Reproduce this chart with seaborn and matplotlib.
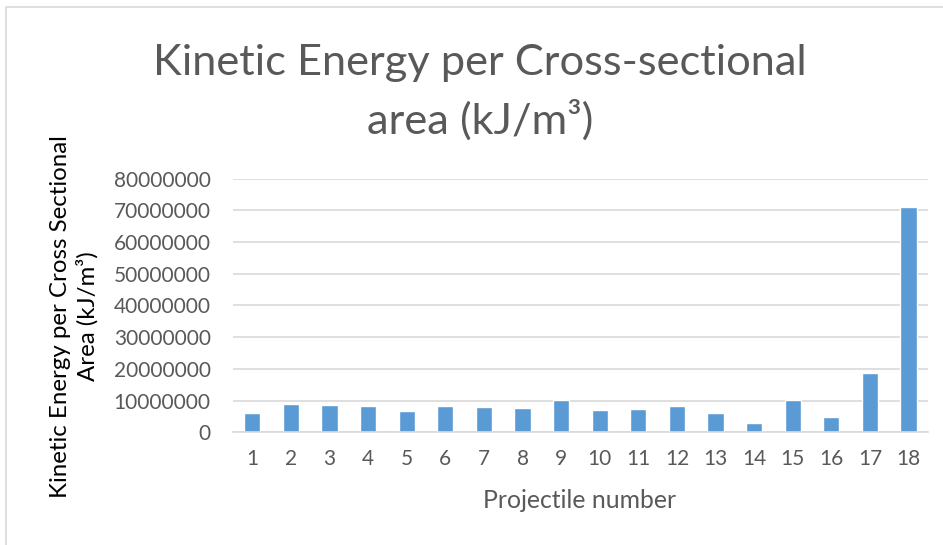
import seaborn as sns
import matplotlib.pyplot as plt
import pandas as pd

projectiles = [str(i) for i in range(1, 19)]
ke_per_area = [5.9e6, 8.9e6, 8.7e6, 8.3e6, 6.7e6, 8.3e6, 8.1e6, 7.5e6, 10.1e6,
               6.9e6, 7.3e6, 8.2e6, 6.0e6, 3.0e6, 10.2e6, 4.8e6, 18.6e6, 71.0e6]
y_ticks = list(range(0, 80000001, 10000000))

df = pd.DataFrame({"projectile": projectiles, "ke": ke_per_area})

sns.set_theme(style="white")
plt.rcParams["font.family"] = ["Lato", "DejaVu Sans"]

fig = plt.figure(figsize=(9.43, 5.45), dpi=100)
ax = fig.add_axes([0.247, 0.207, 0.737, 0.465])

sns.barplot(data=df, x="projectile", y="ke", color="#5B9BD5", width=0.42,
            saturation=1, ax=ax)

ax.set_ylim(0, 80000000)
ax.set_yticks(y_ticks)
ax.set_yticklabels([str(t) for t in y_ticks])
ax.yaxis.grid(True, color="#D9D9D9", linewidth=1.2)
ax.set_axisbelow(True)
for s in ["top", "right", "left"]:
    ax.spines[s].set_visible(False)
ax.spines["bottom"].set_color("#D9D9D9")
ax.spines["bottom"].set_linewidth(1.2)
ax.tick_params(axis="both", length=0, labelsize=15, colors="#595959")
ax.tick_params(axis="x", pad=12)
ax.tick_params(axis="y", pad=16)

xl = ax.set_xlabel("Projectile number", fontsize=17, color="#595959")
ax.xaxis.set_label_coords(0.499, -0.27)
xl.set_va("center")

yl = ax.set_ylabel("Kinetic Energy per Cross Sectional\nArea (kJ/m³)", fontsize=16,
                   color="black", linespacing=1.25)
yl.set_va("center")
ax.yaxis.set_label_coords(-0.228, 0.457)

t1 = fig.text(0.509, 1 - 75 / 545, "Kinetic Energy per Cross-sectional", ha="center",
              va="baseline", fontsize=32, color="#595959")
t2 = fig.text(0.509, 1 - 134 / 545, "area (kJ/m³)", ha="center", va="baseline",
              fontsize=32, color="#595959")

# scale text sizes so their widths match the reference chart
renderer = fig.canvas.get_renderer()


def fit(txt, target_px, vertical=False):
    bb = txt.get_window_extent(renderer)
    size = bb.height if vertical else bb.width
    txt.set_fontsize(txt.get_fontsize() * target_px / size)


fit(t1, 655)
t2.set_fontsize(t1.get_fontsize())
fit(xl, 193)
yl.set_text("Kinetic Energy per Cross Sectional")
fit(yl, 363, vertical=True)
yl.set_text("Kinetic Energy per Cross Sectional\nArea (kJ/m³)")

# outer chart frame
fig.add_artist(plt.Rectangle((0.006, -0.01), 1.0, 0.998, transform=fig.transFigure,
                             fill=False, edgecolor="#D9D9D9", linewidth=1.2))

fig.savefig("out.png", dpi=100)
